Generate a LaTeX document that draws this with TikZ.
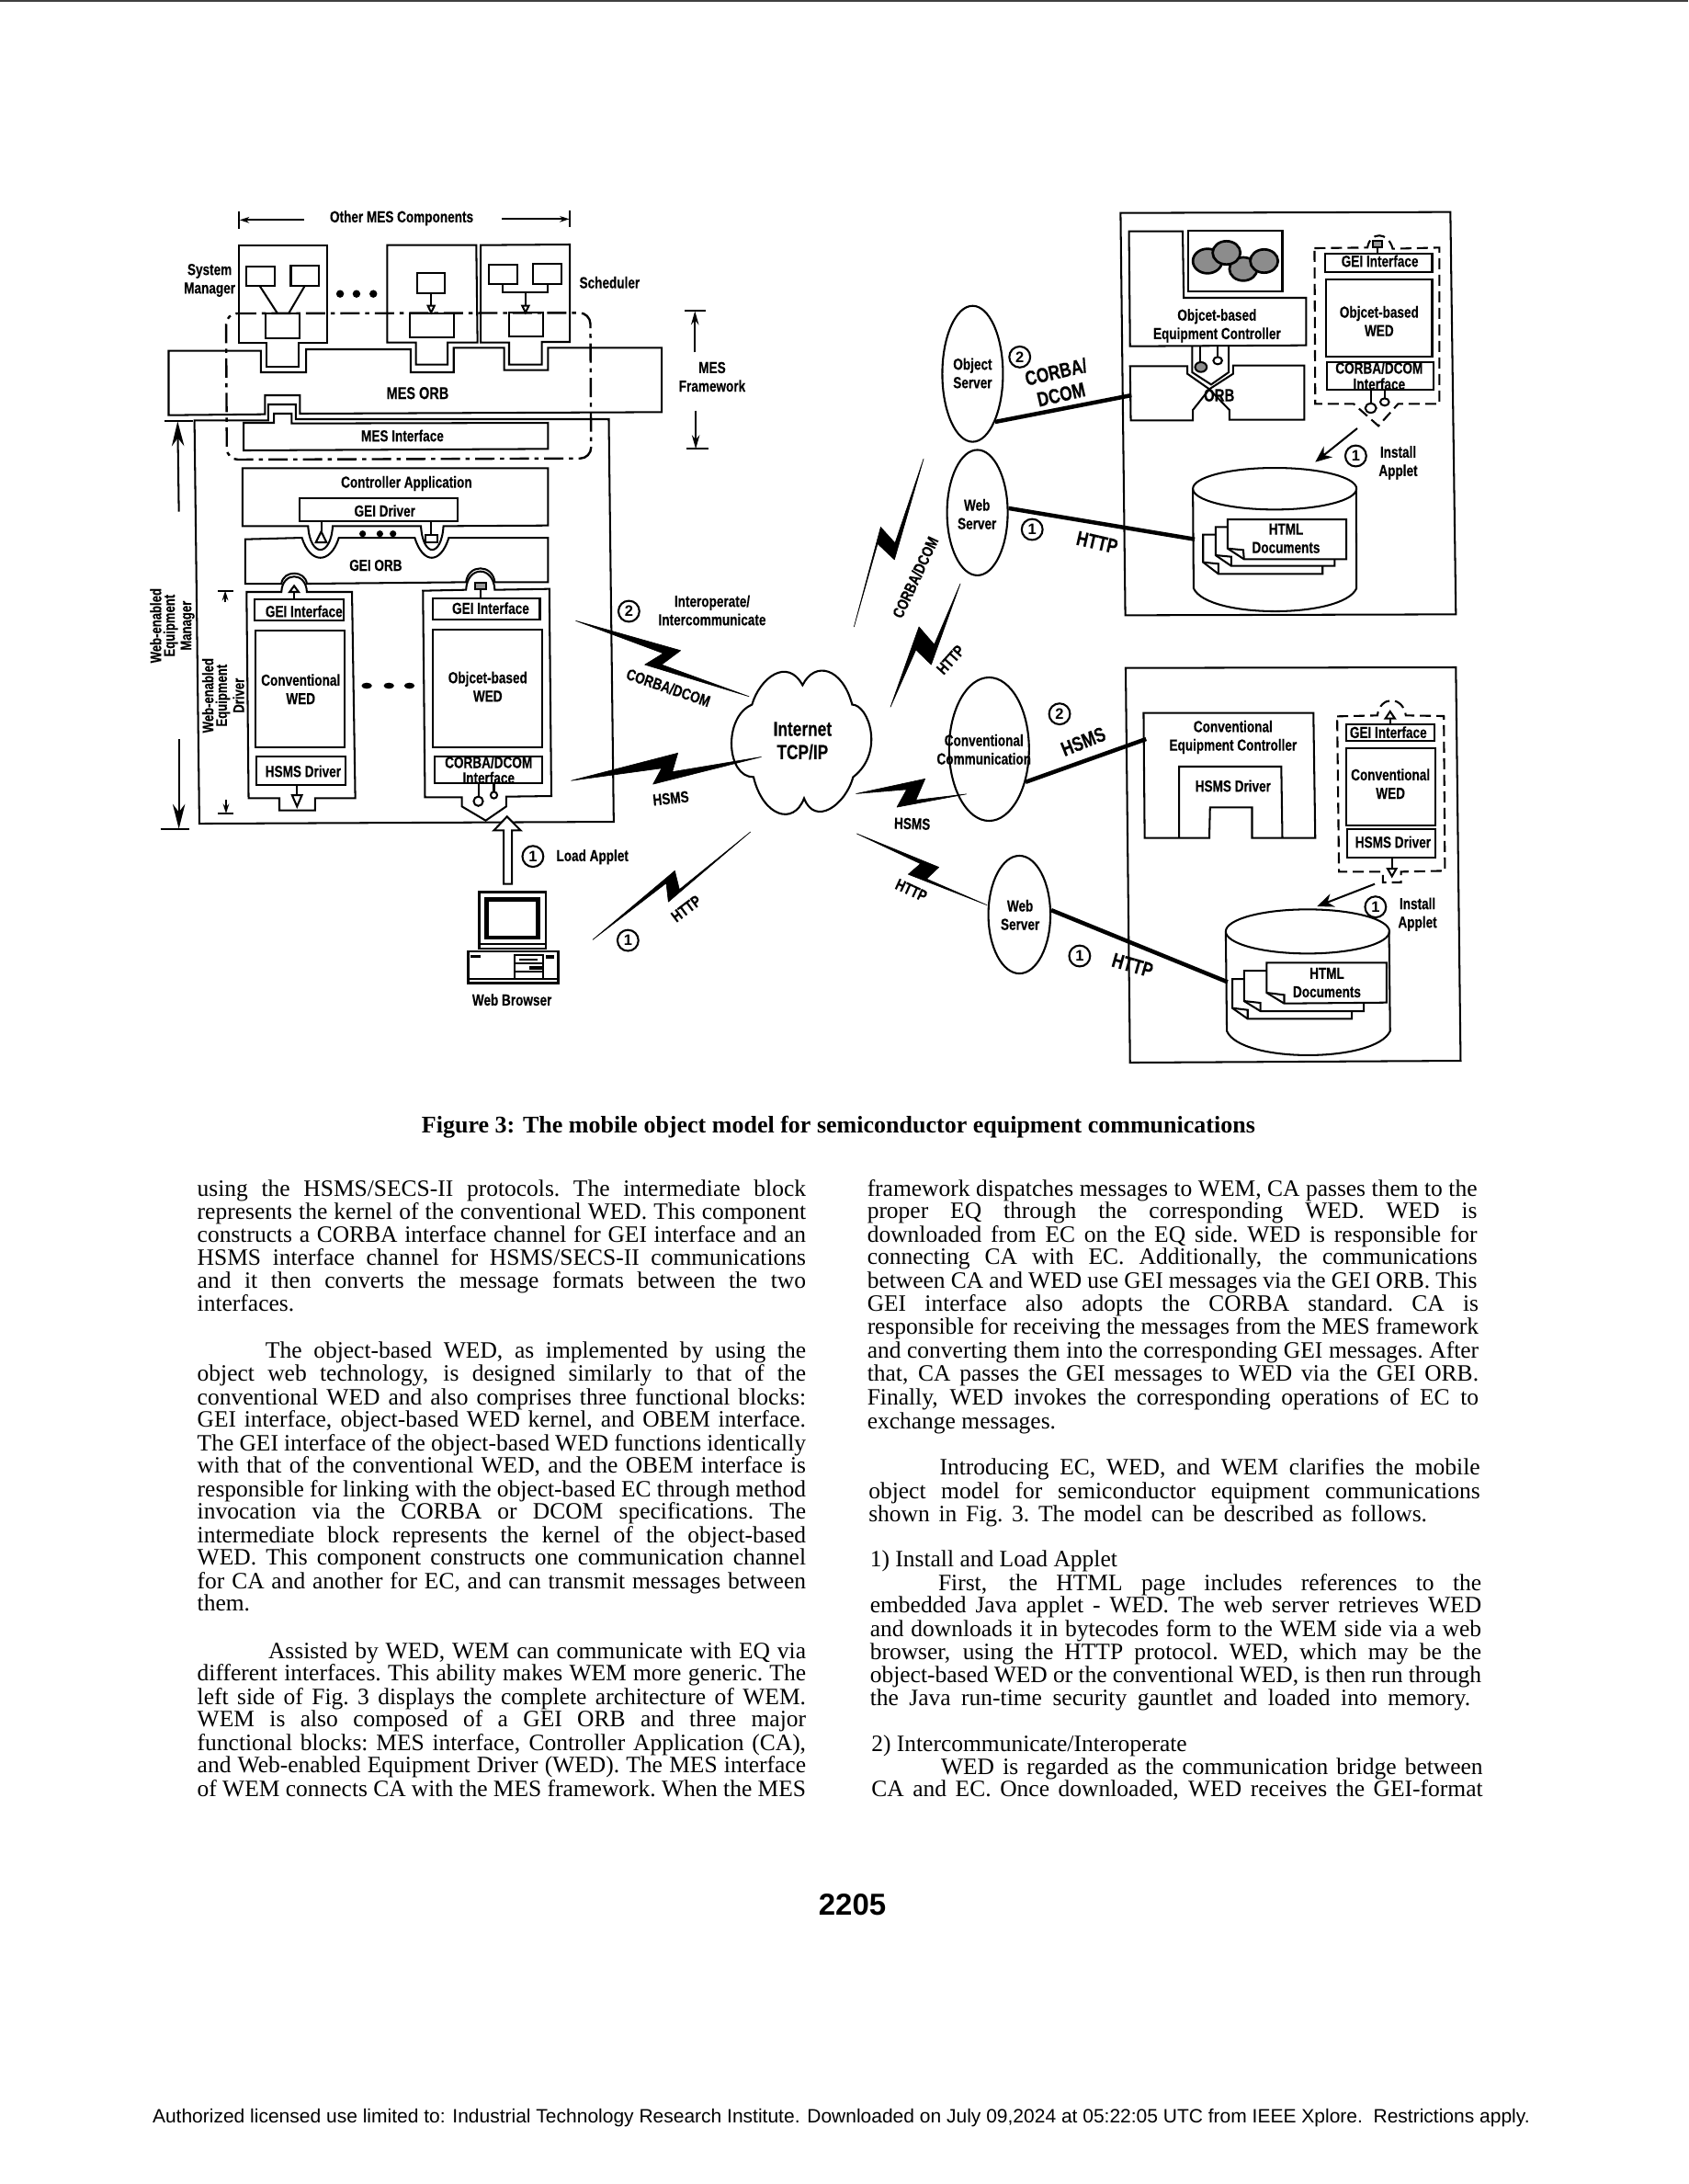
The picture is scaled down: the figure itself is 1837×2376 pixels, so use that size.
\documentclass[tikz,border=0pt]{standalone}
\usepackage{fontspec}
\usetikzlibrary{arrows.meta,shapes.geometric}
\setmainfont{Liberation Serif}
\newfontfamily\nf[FakeStretch=0.78,FakeBold=0.25]{Liberation Sans}
\newfontfamily\ff{Liberation Sans}
\newcounter{nn}
\newcounter{tt}
\newcommand\lb[3][]{\stepcounter{nn}\node[lab,#1] (l\arabic{nn}) at #2 {#3};}
\newcommand\num[2]{\stepcounter{nn}\node[numc] (c\arabic{nn}) at #1 {#2};}
\newcommand\ju[4]{\stepcounter{tt}\pgfmathsetlengthmacro\mywd{(#3-(#1))*0.5052pt}\node[txt] (t\arabic{tt}) at (#1,#2) {\spaceskip=0.25em plus 1fil minus 0.2em\xspaceskip=\spaceskip\hbox to \mywd{#4}};}
\newcommand\na[3]{\stepcounter{tt}\node[txt] (t\arabic{tt}) at (#1,#2) {#3};}
\tikzset{
 lab/.style={font=\nf\bfseries\fontsize{5.8}{6.7}\selectfont,inner sep=0pt,align=center},
 biglab/.style={font=\nf\bfseries\fontsize{7.4}{8.4}\selectfont},
 numc/.style={circle,draw,line width=0.7pt,minimum size=7.6pt,inner sep=0pt,font=\ff\bfseries\fontsize{5.5}{6}\selectfont},
 txt/.style={anchor=base west,inner sep=0pt,font=\fontsize{8.5}{9}\selectfont},
 bolt/.style={fill=black,draw=black,line width=0.2pt,line join=round},
 thick link/.style={line width=1.5pt},
 dd/.style={line width=0.7pt,dash pattern=on 4pt off 2pt},
 ddot/.style={line width=0.8pt,dash pattern=on 7pt off 2pt on 1.5pt off 2pt},
 oval/.style={ellipse,draw,inner sep=0pt,line width=0.7pt},
 zA/.style={shift={(150,210)},x=0.14881pt,y=-0.11111pt},
 zB/.style={shift={(150,620)},x=0.14881pt,y=-0.11111pt},
 zC/.style={shift={(1000,210)},x=0.13249pt,y=-0.11111pt},
 zD/.style={shift={(1000,700)},x=0.13249pt,y=-0.11111pt},
 zE/.style={shift={(620,480)},x=0.11111pt,y=-0.12821pt},
 headb/.style={-{Stealth[length=9pt,width=4.5pt]}},
 headm/.style={-{Stealth[length=5pt,width=2.8pt]}},
 heads/.style={-{Stealth[length=3.5pt,width=2.2pt]}},
 headi/.style={-{Stealth[length=6pt,width=5pt]}},
}
\begin{document}
\begin{tikzpicture}[x=0.33333pt,y=-0.33333pt,line width=0.68pt,line join=miter]
\useasboundingbox (0,0) rectangle (1837,2376);
\fill[black!75] (0,0) rectangle (1837,2);
% ---------------- upper left: MES and WEM
\begin{scope}[zA]
 \coordinate (omL) at (248,88); \coordinate (omLe) at (405,88);
 \coordinate (omR) at (888,85); \coordinate (omRe) at (1052,85);
 \draw[heads] (omLe) -- (omL);
 \draw[heads] (omR) -- (omRe);
 \draw (246,60) -- (246,118);
 \draw (1052,56) -- (1052,112);
 \lb{(643,82)}{Other MES Components}
 \lb{(175,285)}{System\\Manager}
 \lb{(1150,292)}{Scheduler}
 % component boxes with tabs
 \draw (247,172) -- (462,172) -- (462,490) -- (393,490) -- (393,568) -- (313,568) -- (313,490) -- (247,490) -- cycle;
 \draw (608,170) -- (825,170) -- (828,488) -- (755,488) -- (755,560) -- (678,560) -- (678,488) -- (608,488) -- cycle;
 \draw (836,170) -- (1053,168) -- (1053,486) -- (985,486) -- (985,560) -- (905,560) -- (905,488) -- (836,488) -- cycle;
 % small boxes
 \draw (265,240) rectangle (333,303);
 \draw (373,238) rectangle (442,303);
 \draw (312,392) rectangle (395,473);
 \draw (297,303) -- (340,392);
 \draw (407,303) -- (368,392);
 \draw (680,260) rectangle (748,327);
 \draw (662,392) rectangle (770,470);
 \draw (715,327) -- (715,368);
 \draw[fill=white] (707,368) -- (723,368) -- (715,390) -- cycle;
 \draw (856,235) rectangle (925,298);
 \draw (963,232) rectangle (1033,298);
 \draw (905,390) rectangle (987,468);
 \draw (890,298) -- (890,323) -- (998,323) -- (998,298);
 \draw (945,323) -- (945,368);
 \draw[fill=white] (937,368) -- (953,368) -- (945,390) -- cycle;
 \foreach \q in {493,533,574} \fill (\q,329) circle[radius=1.4pt];
 % MES ORB
 \draw (75,515) -- (300,515) -- (300,585) -- (410,585) -- (410,510) -- (665,510) -- (665,585) -- (770,585) -- (770,505) -- (893,505) -- (893,578) -- (1000,578) -- (1000,505) -- (1277,505) -- (1277,715) -- (395,720) -- (395,660) -- (310,660) -- (310,722) -- (75,725) -- cycle;
 \lb{(682,653)}{\fontsize{6.2}{7}\selectfont MES ORB}
 % MES framework bracket
 \coordinate (mfT) at (1358,385); \coordinate (mfB) at (1360,835);
 \draw (1333,385) -- (1385,385);
 \draw (1337,835) -- (1390,835);
 \draw[headm] (1358,520) -- (mfT);
 \draw[headm] (1360,710) -- (mfB);
 \lb{(1400,600)}{MES\\Framework}
 % MES interface
 \draw (258,750) -- (332,750) -- (332,720) -- (375,720) -- (375,752) -- (1000,750) -- (1000,835) -- (258,840) -- cycle;
 \lb{(645,792)}{MES Interface}
 % dash-dot outline
 \draw[ddot,rounded corners=4pt] (215,393) -- (1103,391) -- (1105,866) -- (217,870) -- cycle;
 % Controller application
 \draw (255,898) -- (1000,898) -- (1000,1085) -- (745,1087) .. controls (740,1190) and (695,1190) .. (690,1087) -- (475,1087) .. controls (470,1190) and (420,1190) .. (415,1087) -- (255,1087) -- cycle;
 \lb{(655,948)}{Controller Application}
 \draw (395,997) rectangle (780,1070);
 \lb{(602,1037)}{GEI Driver}
 \draw (447,1070) -- (447,1105);
 \draw (447,1105) -- (460,1140) -- (434,1140) -- cycle;
 \draw (715,1070) -- (715,1117);
 \draw (702,1117) rectangle (730,1140);
 \foreach \q in {548,590,622} \fill (\q,1112) circle[radius=1.2pt];
 % GEI ORB
 \draw (262,1130) -- (400,1125) .. controls (420,1212) and (470,1212) .. (490,1125) -- (675,1125) .. controls (695,1212) and (738,1212) .. (758,1125) -- (1000,1125) -- (1000,1270) -- (870,1270) .. controls (865,1210) and (805,1210) .. (800,1270) -- (412,1275) .. controls (408,1230) and (354,1230) .. (350,1275) -- (262,1275) -- cycle;
 \lb{(580,1215)}{GEI ORB}
 % WEM outline
 \draw (138,742) -- (318,742) -- (318,690) -- (385,690) -- (385,738) -- (1148,738) -- (1160,2052) -- (150,2058) -- cycle;
 % big bracket
 \coordinate (wemT) at (97,745);
 \draw (65,745) -- (135,745);
 \draw[headb] (100,1040) -- (wemT);
\end{scope}
\begin{scope}[zB]
 \coordinate (wemB) at (100,845);
 \draw (55,845) -- (125,845);
 \draw[headb] (100,553) -- (wemB);
 \lb[rotate=90,font=\nf\bfseries\fontsize{5.6}{4.9}\selectfont]{(84,182)}{Web-enabled\\Equipment\\Manager}
 \lb[rotate=90,font=\nf\bfseries\fontsize{5.6}{4.9}\selectfont]{(208,410)}{Web-enabled\\Equipment\\Driver}
 % small bracket
 \coordinate (wedT) at (213,68); \coordinate (wedB) at (215,795);
 \draw (195,68) -- (232,68);
 \draw (195,795) -- (232,795);
 \draw[heads] (213,105) -- (wedT);
 \draw[heads] (215,750) -- (wedB);
 % conventional WED
 \draw (265,72) -- (350,72) .. controls (352,5) and (410,5) .. (412,72) -- (522,72) -- (530,745) -- (432,745) -- (432,785) -- (345,785) -- (345,745) -- (270,745) -- cycle;
 \draw (285,95) rectangle (502,165);
 \lb{(405,135)}{GEI Interface}
 \draw (287,197) rectangle (505,580);
 \lb{(397,389)}{Conventional\\WED}
 \draw (290,610) rectangle (507,702);
 \lb{(403,657)}{HSMS Driver}
 \draw (381,95) -- (381,72);
 \draw (381,52) -- (370,72) -- (392,72) -- cycle;
 \draw (387,702) -- (387,735);
 \draw (376,735) -- (400,735) -- (388,772) -- cycle;
 \foreach \q in {558,612,662} \fill (\q,378) ellipse[x radius=1.9pt,y radius=1.1pt];
 % object-based WED
 \draw (695,68) -- (800,65) .. controls (803,-15) and (867,-15) .. (870,65) -- (1003,62) -- (1008,738) -- (898,740) -- (898,772) -- (848,818) -- (790,772) -- (790,742) -- (700,742) -- cycle;
 \draw (718,92) rectangle (980,162);
 \lb{(860,125)}{GEI Interface}
 \draw (720,195) rectangle (985,578);
 \lb{(853,381)}{Objcet-based\\WED}
 \draw (723,608) rectangle (985,695);
 \lb[font=\nf\bfseries\fontsize{5.8}{5.6}\selectfont]{(855,653)}{CORBA/DCOM\\Interface}
 \draw[fill=black!40] (823,42) rectangle (848,62);
 \draw (835,62) -- (835,92);
 \draw (830,695) -- (830,742);
 \draw (830,755) circle[radius=1.7pt];
 \draw (868,695) -- (868,723);
 \draw (868,735) circle[radius=1.2pt];
 % load applet
 \num{(963,935)}{1}
 \lb[anchor=west]{(1018,937)}{Load Applet}
 \draw[fill=white] (892,1025) -- (892,850) -- (868,850) -- (900,805) -- (933,850) -- (912,850) -- (912,1025) -- cycle;
 % computer
 \draw[line width=0.8pt] (832,1052) rectangle (995,1235);
 \draw[line width=1.5pt] (850,1075) rectangle (975,1200);
 \draw (832,1222) -- (995,1222);
 \draw[line width=0.8pt] (805,1245) rectangle (1025,1348);
 \draw (805,1335) -- (1025,1335);
 \draw (918,1258) rectangle (988,1335);
 \draw (918,1285) -- (988,1285);
 \draw (918,1310) -- (988,1310);
 \fill (812,1258) rectangle (835,1266);
 \fill (995,1258) rectangle (1015,1268);
 \fill (930,1268) rectangle (975,1275);
 \fill (955,1292) rectangle (985,1305);
 \lb{(912,1403)}{Web Browser}
 % interoperate
 \num{(1197,135)}{2}
 \lb{(1400,132)}{Interoperate/\\Intercommunicate}
\end{scope}
% ---------------- centre: cloud and bolts
\begin{scope}[zE]
 \draw[line width=0.7pt] (595,745) .. controls (620,670) and (710,610) .. (760,690) .. controls (800,620) and (890,640) .. (922,745) .. controls (975,745) and (1030,880) .. (925,950) .. controls (900,1030) and (800,1090) .. (765,1010) .. controls (730,1090) and (630,1060) .. (600,950) .. controls (510,950) and (500,780) .. (595,745) -- cycle;
 \lb[biglab]{(760,847)}{Internet\\TCP/IP}
 \draw[bolt] (20,508) -- (362,592) -- (300,632) -- (585,722) -- (245,632) -- (305,600) -- cycle;
 \lb[rotate=-19]{(322,697)}{CORBA/DCOM}
 \draw[bolt] (5,960) -- (353,882) -- (335,935) -- (625,893) -- (272,970) -- (300,925) -- cycle;
 \lb[rotate=6]{(330,1010)}{HSMS}
 \draw[bolt] (75,1410) -- (343,1215) -- (358,1268) -- (590,1105) -- (322,1303) -- (315,1250) -- cycle;
 \lb[rotate=37]{(380,1322)}{HTTP}
 \num{(190,1412)}{1}
 \draw[bolt] (928,525) -- (1015,243) -- (1062,288) -- (1155,50) -- (1060,335) -- (1005,290) -- cycle;
 \lb[rotate=65]{(1128,385)}{CORBA/DCOM}
 \draw[bolt] (1047,752) -- (1140,525) -- (1190,575) -- (1275,403) -- (1180,632) -- (1130,590) -- cycle;
 \lb[rotate=48]{(1243,618)}{HTTP}
 \draw[bolt] (935,997) -- (1160,955) -- (1130,1015) -- (1295,998) -- (1068,1035) -- (1100,985) -- cycle;
 \lb[rotate=-2]{(1118,1082)}{HSMS}
 \draw[bolt] (937,1110) -- (1205,1205) -- (1165,1238) -- (1362,1312) -- (1105,1225) -- (1145,1195) -- cycle;
 \lb[rotate=-25]{(1115,1270)}{HTTP}
\end{scope}
% ---------------- upper right
\begin{scope}[zC]
 \draw (552,65) -- (1455,62) -- (1470,1375) -- (565,1378) -- cycle;
 \draw (575,125) -- (722,125) -- (725,342) -- (1060,342) -- (1060,497) -- (578,500) -- cycle;
 \lb{(816,433)}{Objcet-based\\Equipment Controller}
 \draw (737,122) rectangle (995,320);
 \foreach \a/\b/\r in {790/222/40,888/248/38,842/195/38,945/222/38}
   \draw[fill=black!45,line width=0.9pt] (\a,\b) ellipse[x radius=\r,y radius=\r];
 \draw (578,565) -- (735,565) -- (735,590) -- (795,640) -- (750,708) -- (750,742) -- (580,742) -- cycle;
 \draw (860,563) -- (860,590) -- (795,640) -- (850,708) -- (850,740) -- (1055,740) -- (1055,563) -- cycle;
 \draw (748,500) -- (748,585) -- (800,625) -- (848,585) -- (848,500);
 \lb[font=\nf\bfseries\fontsize{6.4}{7}\selectfont]{(822,660)}{ORB}
 \draw (770,500) -- (770,553);
 \draw[fill=black!45] (772,568) ellipse[x radius=16,y radius=16];
 \draw (818,500) -- (818,535);
 \draw (818,547) ellipse[x radius=12,y radius=12];
 % mobile WED
 \draw[dd] (1083,180) -- (1228,178) .. controls (1235,125) and (1285,125) .. (1297,182) -- (1425,178) -- (1425,688) -- (1312,688) -- (1258,760) -- (1190,688) -- (1085,688) -- cycle;
 \draw (1112,198) rectangle (1405,258);
 \lb{(1262,222)}{GEI Interface}
 \draw[fill=black!40] (1243,155) rectangle (1268,178);
 \draw (1256,178) -- (1256,198);
 \draw (1115,283) rectangle (1405,535);
 \lb{(1260,418)}{Objcet-based\\WED}
 \draw (1117,552) rectangle (1408,643);
 \lb[font=\nf\bfseries\fontsize{5.8}{5.8}\selectfont]{(1260,597)}{CORBA/DCOM\\Interface}
 \draw (1237,643) -- (1237,688);
 \draw[fill=white] (1237,702) ellipse[x radius=15,y radius=15];
 \draw (1275,643) -- (1275,670);
 \draw (1275,682) ellipse[x radius=12,y radius=12];
 \coordinate (insA) at (1200,768); \coordinate (insB) at (1085,878);
 \draw[headi] (insA) -- (insB);
 \num{(1196,858)}{1}
 \lb{(1312,880)}{Install\\Applet}
 % cylinder
 \draw (750,965) arc[start angle=180,end angle=-180,x radius=224,y radius=68];
 \draw (750,965) -- (752,1290) .. controls (790,1390) and (1160,1390) .. (1198,1290) -- (1197,965);
 % documents
 \draw[fill=white] (778,1115) -- (1105,1115) -- (1105,1243) -- (820,1243) -- (778,1205) -- cycle;
 \draw[fill=white] (812,1090) -- (1138,1090) -- (1138,1217) -- (855,1217) -- (812,1182) -- cycle;
 \draw[fill=white] (845,1065) -- (1170,1065) -- (1170,1195) -- (890,1195) -- (845,1160) -- cycle;
 \draw (778,1205) -- (820,1210) -- (820,1243);
 \draw (812,1182) -- (855,1187) -- (855,1217);
 \draw (845,1160) -- (888,1165) -- (890,1195);
 \lb{(1005,1127)}{HTML\\Documents}
 % servers
 \node[oval,minimum width=22pt,minimum height=49.3pt] (objs) at (147,590) {};
 \node[oval,minimum width=22pt,minimum height=45.5pt] (webs) at (160,1043) {};
 \lb{(147,588)}{Object\\Server}
 \lb{(159,1048)}{Web\\Server}
 \coordinate (cdEnd) at (582,660);
 \coordinate (htEnd) at (755,1130);
 \draw[thick link] (objs.-65) -- (cdEnd);
 \draw[thick link] (webs.8) -- (htEnd);
 \num{(276,535)}{2}
 \lb[biglab,rotate=13]{(382,620)}{CORBA/\\DCOM}
 \num{(310,1098)}{1}
 \lb[biglab,rotate=-13]{(488,1140)}{HTTP}
\end{scope}
% ---------------- lower right
\begin{scope}[zD]
 \draw (566,80) -- (1470,78) -- (1483,1362) -- (578,1368) -- cycle;
 \node[oval,minimum width=29pt,minimum height=52pt] (conv) at (192,345) {};
 \lb{(178,346)}{Conventional\\Communication}
 \node[oval,minimum width=22.5pt,minimum height=42.7pt] (webs2) at (275,885) {};
 \lb{(277,886)}{Web\\Server}
 \coordinate (ecEnd) at (622,312);
 \coordinate (dbEnd) at (845,1105);
 \draw[thick link] (conv.-42) -- (ecEnd);
 \draw[thick link] (webs2.8) -- (dbEnd);
 \num{(385,230)}{2}
 \lb[biglab,rotate=22]{(450,320)}{HSMS}
 \num{(440,1020)}{1}
 \lb[biglab,rotate=-16]{(585,1050)}{HTTP}
 \draw (615,227) -- (1080,227) -- (1085,635) -- (912,635) -- (912,535) -- (797,535) -- (795,635) -- (618,635) -- cycle;
 \draw (712,635) -- (712,402) -- (992,402) -- (995,635);
 \lb{(860,306)}{Conventional\\Equipment Controller}
 \lb{(860,465)}{HSMS Driver}
 \draw[dd] (1145,238) -- (1255,235) .. controls (1262,170) and (1325,170) .. (1333,235) -- (1437,237) -- (1440,742) -- (1320,745) -- (1320,780) -- (1270,780) -- (1270,745) -- (1150,745) -- cycle;
 \draw (1290,222) -- (1303,245) -- (1277,245) -- cycle;
 \draw (1290,245) -- (1290,265);
 \draw (1170,265) rectangle (1412,318);
 \lb{(1285,290)}{GEI Interface}
 \draw (1170,342) rectangle (1413,595);
 \lb{(1291,458)}{Conventional\\WED}
 \draw (1172,605) rectangle (1415,700);
 \lb{(1298,648)}{HSMS Driver}
 \draw (1295,700) -- (1295,735);
 \draw (1283,735) -- (1307,735) -- (1295,760) -- cycle;
 \coordinate (insC) at (1248,785); \coordinate (insD) at (1090,858);
 \draw[headi] (insC) -- (insD);
 \num{(1250,860)}{1}
 \lb{(1365,884)}{Install\\Applet}
 \draw (840,940) arc[start angle=180,end angle=-180,x radius=224,y radius=72];
 \draw (840,940) -- (843,1265) .. controls (880,1370) and (1250,1370) .. (1290,1265) -- (1287,940);
 \draw[fill=white] (858,1095) -- (1185,1095) -- (1185,1225) -- (900,1225) -- (858,1190) -- cycle;
 \draw[fill=white] (890,1068) -- (1218,1068) -- (1218,1200) -- (935,1200) -- (890,1167) -- cycle;
 \draw[fill=white] (952,1042) -- (1280,1042) -- (1280,1172) -- (1000,1175) -- (952,1140) -- cycle;
 \draw (858,1190) -- (900,1196) -- (900,1225);
 \draw (890,1167) -- (935,1173) -- (935,1200);
 \draw (952,1140) -- (1000,1147) -- (1000,1175);
 \lb{(1117,1107)}{HTML\\Documents}
\end{scope}
% ---------------- caption, body, footer
\begin{scope}[x=0.5052pt,y=-0.5052pt,shift={(0,1.5)}]
 \node[inner sep=0pt,font=\bfseries\fontsize{8.67}{11}\selectfont] (cap) at (602,807.5) {Figure 3: The mobile object model for semiconductor equipment communications};
 \node[inner sep=0pt,font=\ff\bfseries\fontsize{11}{12}\selectfont] (pg) at (612,1365.5) {2205};
 \node[inner sep=0pt,font=\ff\fontsize{7}{8}\selectfont] (ft) at (604,1518.5) {Authorized licensed use limited to: Industrial Technology Research Institute. Downloaded on July 09,2024 at 05:22:05 UTC from IEEE Xplore.\ \ Restrictions apply.};
 % left column
 \ju{141}{857}{578}{using the HSMS/SECS-II protocols. The intermediate block}
 \ju{141}{874}{578}{represents the kernel of the conventional WED. This component}
 \ju{141}{890}{578}{constructs a CORBA interface channel for GEI interface and an}
 \ju{141}{907}{578}{HSMS interface channel for HSMS/SECS-II communications}
 \ju{141}{923}{578}{and it then converts the message formats between the two}
 \na{141}{940}{interfaces.}
 \ju{190}{973}{578}{The object-based WED, as implemented by using the}
 \ju{141}{990}{578}{object web technology, is designed similarly to that of the}
 \ju{141}{1007}{578}{conventional WED and also comprises three functional blocks:}
 \ju{141}{1023}{578}{GEI interface, object-based WED kernel, and OBEM interface.}
 \ju{141}{1040}{578}{The GEI interface of the object-based WED functions identically}
 \ju{141}{1056}{578}{with that of the conventional WED, and the OBEM interface is}
 \ju{141}{1073}{578}{responsible for linking with the object-based EC through method}
 \ju{141}{1089}{578}{invocation via the CORBA or DCOM specifications. The}
 \ju{141}{1106}{578}{intermediate block represents the kernel of the object-based}
 \ju{141}{1122}{578}{WED. This component constructs one communication channel}
 \ju{141}{1139}{578}{for CA and another for EC, and can transmit messages between}
 \na{141}{1155}{them.}
 \ju{192}{1189}{578}{Assisted by WED, WEM can communicate with EQ via}
 \ju{141}{1205}{578}{different interfaces. This ability makes WEM more generic. The}
 \ju{141}{1222}{578}{left side of Fig. 3 displays the complete architecture of WEM.}
 \ju{141}{1238}{578}{WEM is also composed of a GEI ORB and three major}
 \ju{141}{1255}{578}{functional blocks: MES interface, Controller Application (CA),}
 \ju{141}{1271}{578}{and Web-enabled Equipment Driver (WED). The MES interface}
 \ju{141}{1288}{578}{of WEM connects CA with the MES framework. When the MES}
 % right column
 \ju{622}{857}{1060}{framework dispatches messages to WEM, CA passes them to the}
 \ju{622}{873}{1060}{proper EQ through the corresponding WED. WED is}
 \ju{622}{890}{1060}{downloaded from EC on the EQ side. WED is responsible for}
 \ju{622}{906}{1060}{connecting CA with EC. Additionally, the communications}
 \ju{622}{923}{1060}{between CA and WED use GEI messages via the GEI ORB. This}
 \ju{622}{940}{1061}{GEI interface also adopts the CORBA standard. CA is}
 \ju{622}{956}{1061}{responsible for receiving the messages from the MES framework}
 \ju{622}{973}{1061}{and converting them into the corresponding GEI messages. After}
 \ju{622}{990}{1061}{that, CA passes the GEI messages to WED via the GEI ORB.}
 \ju{622}{1007}{1061}{Finally, WED invokes the corresponding operations of EC to}
 \na{622}{1024}{exchange messages.}
 \ju{674}{1057}{1062}{Introducing EC, WED, and WEM clarifies the mobile}
 \ju{623}{1074}{1062}{object model for semiconductor equipment communications}
 \ju{623}{1091}{1024}{shown in Fig. 3. The model can be described as follows.}
 \na{624}{1123}{1) Install and Load Applet}
 \ju{673}{1140}{1063}{First, the HTML page includes references to the}
 \ju{624}{1156}{1063}{embedded Java applet - WED. The web server retrieves WED}
 \ju{624}{1173}{1063}{and downloads it in bytecodes form to the WEM side via a web}
 \ju{624}{1190}{1063}{browser, using the HTTP protocol. WED, which may be the}
 \ju{624}{1206}{1063}{object-based WED or the conventional WED, is then run through}
 \ju{624}{1223}{1055}{the Java run-time security gauntlet and loaded into memory.}
 \na{625}{1256}{2) Intercommunicate/Interoperate}
 \ju{675}{1272}{1064}{WED is regarded as the communication bridge between}
 \ju{625}{1288}{1064}{CA and EC. Once downloaded, WED receives the GEI-format}
\end{scope}
\end{tikzpicture}
\end{document}
